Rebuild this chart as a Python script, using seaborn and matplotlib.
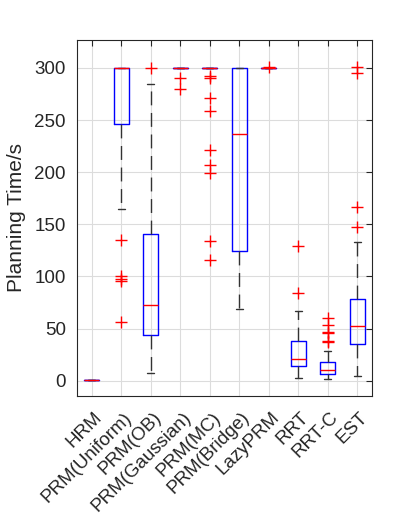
import pandas as pd
import matplotlib
matplotlib.use('Agg')
import matplotlib.pyplot as plt
import matplotlib.transforms as mtransforms
import seaborn as sns

# planner names (x axis)
planners = ['HRM', 'PRM(Uniform)', 'PRM(OB)', 'PRM(Gaussian)', 'PRM(MC)',
            'PRM(Bridge)', 'LazyPRM', 'RRT', 'RRT-C', 'EST']

# planning times in seconds, 300 s = timeout
hrm = [0.4, 0.5, 0.5, 0.6, 0.6]
prm_uniform = [56, 96, 98, 100, 135, 165, 246, 255, 270, 285, 292, 298,
               300, 300, 300, 300, 300, 300, 300, 300, 300, 300, 300, 300, 300]
prm_ob = [7, 25, 43.8, 55, 72.9, 105, 141.2, 285, 300]
prm_gaussian = [279.3, 290.8, 300, 300, 300, 300, 300, 300, 300]
prm_mc = [116, 133.9, 199.7, 206.8, 221.2, 258.6, 270.7, 289.9, 292.4,
          300, 300, 300, 300, 300, 300, 300, 300, 300, 300, 300, 300, 300, 300,
          300, 300, 300, 300, 300, 300, 300, 300, 300, 300, 300, 300, 300, 300]
prm_bridge = [68.7, 100, 124.3, 180, 236.8, 270, 300, 300, 300]
lazy_prm = [300, 300, 300, 300, 300, 300, 300, 300, 301]
rrt = [2.2, 8, 11, 14.1, 17, 19, 20.8, 25, 31, 38, 67.1, 84.1, 129.1]
rrt_c = [1.6, 2.5, 3.5, 4.2, 5.0, 5.6, 6.2, 6.7, 7.2, 7.8, 8.4, 9.0, 9.5, 9.9,
         10.2, 11, 12, 13, 14.5, 16, 17.2, 18.2, 28.8, 37.5, 38.2, 45.5, 46.5,
         53.4, 60.4]
est = [4.5, 12, 20, 27, 31, 35.5, 40, 44, 48, 51, 52.7, 56, 60, 66, 72, 78.3,
       133.3, 147.3, 166.2, 295, 301]

times = [hrm, prm_uniform, prm_ob, prm_gaussian, prm_mc, prm_bridge,
         lazy_prm, rrt, rrt_c, est]

df = pd.DataFrame({
    'planner': [p for p, t in zip(planners, times) for _ in t],
    'time': [v for t in times for v in t],
})

sns.set_style('white')
plt.rcParams['font.family'] = ['Liberation Sans', 'DejaVu Sans']

fig = plt.figure(figsize=(4.12, 5.23), dpi=100)
ax = fig.add_axes([0.187, 0.243, 0.716, 0.681])

sns.boxplot(data=df, x='planner', y='time', order=planners, ax=ax,
            width=0.5, whis=1.5, fill=False, linewidth=1.0,
            boxprops=dict(color='blue'),
            medianprops=dict(color='red'),
            whiskerprops=dict(color='#333333', linestyle=(0, (10, 5.5))),
            capprops=dict(color='#333333'),
            flierprops=dict(marker='+', markeredgecolor='red',
                            markerfacecolor='red', markersize=8,
                            markeredgewidth=1.0),
            capwidths=0.24)

ax.set_xlim(-0.5, 9.5)
ax.set_ylim(-14.5, 327)
ax.set_yticks([0, 50, 100, 150, 200, 250, 300])
ax.grid(True, color='#dcdcdc', linewidth=0.8)
ax.set_axisbelow(True)
ax.tick_params(direction='in', length=4, top=True, right=True,
               labelsize=13.5, color='#262626', labelcolor='#262626', pad=8)
for s in ax.spines.values():
    s.set_color('#262626')
    s.set_linewidth(0.8)
shift = mtransforms.ScaledTranslation(2 / 100, -2 / 100, fig.dpi_scale_trans)
for lab in ax.get_xticklabels():
    lab.set_rotation(45)
    lab.set_ha('right')
    lab.set_rotation_mode('anchor')
    lab.set_transform(lab.get_transform() + shift)
ax.set_xlabel('')
ax.set_ylabel('Planning Time/s', fontsize=15, color='#262626', labelpad=6)

fig.savefig('out.png', dpi=100)
